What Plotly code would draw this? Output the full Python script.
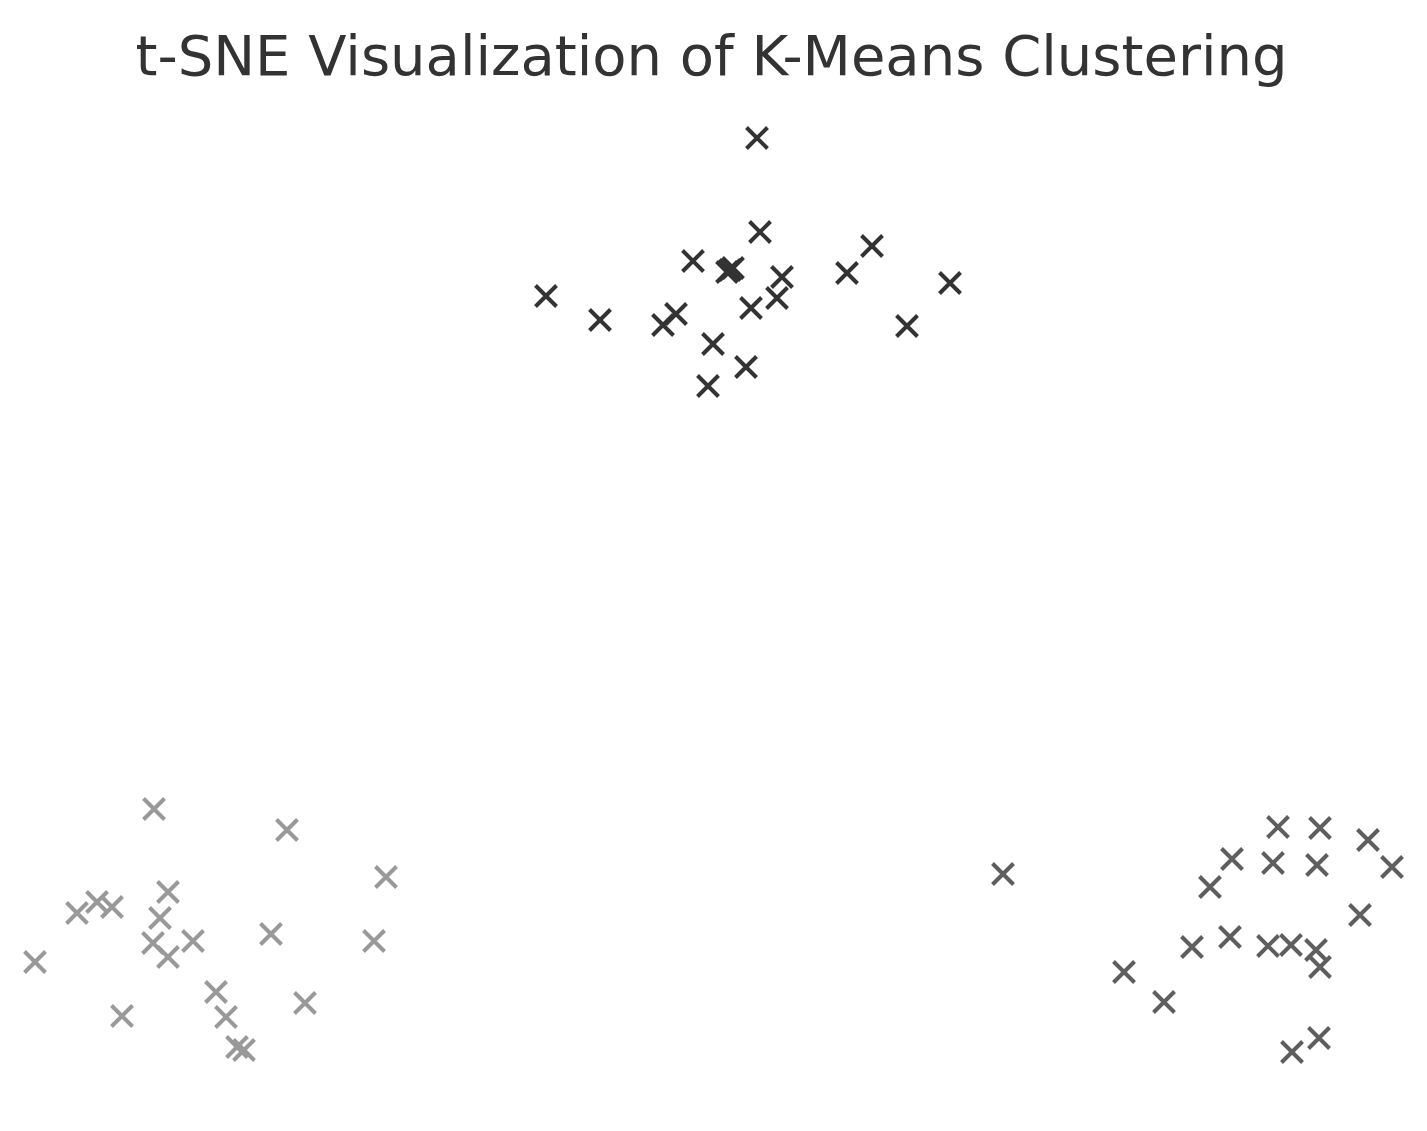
import plotly.graph_objects as go

# t-SNE coordinates per K-Means cluster
c1_x = [2.2, 2.35, -1.0, 0.7, 1.0, 0.85, 3.45, 7.95, 6.7, 11.85, -8.35, -5.65, -1.85, -2.5, 1.9, 3.2, 9.7, 0.0, 1.65, -0.25]
c1_y = [23.1, 18.4, 16.95, 16.4, 16.6, 16.5, 16.15, 17.7, 16.35, 15.85, 15.2, 14.0, 14.3, 13.75, 14.6, 15.1, 13.7, 12.8, 11.65, 10.7]

c2_x = [-27.95, -21.3, -16.35, -27.25, -31.8, -30.8, -30.05, -27.65, -28.0, -27.25, -26.0, -22.1, -16.95, -33.9, -24.85, -20.4, -29.55, -24.35, -23.8, -23.45]
c2_y = [-10.45, -11.5, -13.85, -14.6, -15.65, -15.1, -15.35, -15.9, -17.15, -17.85, -17.05, -16.7, -17.05, -18.1, -19.6, -20.15, -20.8, -20.85, -22.35, -22.5]

c3_x = [14.5, 28.25, 30.35, 32.75, 25.95, 28.0, 30.2, 33.95, 24.85, 32.35, 23.95, 25.85, 27.75, 28.9, 30.15, 30.35, 20.55, 22.55, 30.3, 28.95]
c3_y = [-13.7, -11.35, -11.4, -12.0, -12.95, -13.15, -13.25, -13.35, -14.35, -15.75, -17.35, -16.85, -17.3, -17.25, -17.5, -18.35, -18.6, -20.1, -21.9, -22.6]

clusters = [
    ("Cluster 0", c1_x, c1_y, "#333333"),
    ("Cluster 1", c2_x, c2_y, "#999999"),
    ("Cluster 2", c3_x, c3_y, "#5e5e5e"),
]

fig = go.Figure()
for name, xs, ys, col in clusters:
    fig.add_trace(go.Scatter(
        x=xs, y=ys, mode="markers", name=name,
        marker=dict(symbol="x-thin", size=21, line=dict(width=4, color=col), color=col),
    ))

fig.update_layout(
    width=1427, height=1131,
    paper_bgcolor="white", plot_bgcolor="white",
    showlegend=False,
    margin=dict(l=0, r=0, t=100, b=0),
    title=dict(text="t-SNE Visualization of K-Means Clustering",
               x=0.5 - 10 / 1427, xanchor="center", y=1 - 47 / 1131, yanchor="middle", yref="container",
               font=dict(family="DejaVu Sans", size=56, color="#333333")),
    xaxis=dict(visible=False, range=[-35.25, 36.1]),
    yaxis=dict(visible=False, range=[-26.95, 24.6]),
)

fig.write_html("out.html")
